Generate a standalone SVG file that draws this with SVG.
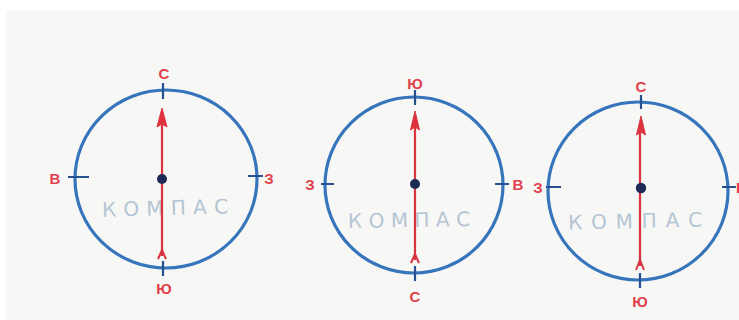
<svg xmlns="http://www.w3.org/2000/svg" width="739" height="320" viewBox="0 0 739 320">
<style>
.ring{fill:none;stroke:#3675bb;stroke-width:3.2}
.tick{stroke:#26508f;stroke-width:2.2;fill:none}
.needle{stroke:#d9343f;stroke-width:2.2;fill:none}
.head{fill:#e0323e;stroke:#d9343f;stroke-width:1}
.tail{stroke:#d9343f;stroke-width:2;fill:none;stroke-linejoin:miter}
.dot{fill:#1c2a55}
.lbl{font-family:"Liberation Sans",Arial,sans-serif;font-weight:bold;font-size:15px;fill:#e0404c;text-anchor:middle}
.name{font-family:"DejaVu Sans",sans-serif;font-size:20px;fill:#b4c5d3}
</style>
<rect x="0" y="0" width="739" height="320" fill="#ffffff"/>
<rect x="6" y="10" width="733" height="310" fill="#f7f7f6"/>

<g id="compass1">
  <ellipse class="ring" cx="166" cy="179" rx="91" ry="89"/>
  <path class="tick" d="M163,83 V99 M163,261 V276 M68,177 H89 M248,176 H263"/>
  <text class="name" x="102" y="215" textLength="126" lengthAdjust="spacing" transform="rotate(-1.5 165 210)">КОМПАС</text>
  <text class="lbl" x="164" y="79">С</text>
  <text class="lbl" x="164" y="294">Ю</text>
  <text class="lbl" x="55" y="184">В</text>
  <text class="lbl" x="269" y="184">З</text>
</g>

<g id="compass2">
  <ellipse class="ring" cx="414" cy="185" rx="89" ry="88"/>
  <path class="tick" d="M415,90 V105 M415,266 V281 M321,184 H334 M495,184 H509"/>
  <text class="name" x="348" y="227" textLength="122" lengthAdjust="spacing" transform="rotate(-1 409 221)">КОМПАС</text>
  <text class="lbl" x="415" y="89">Ю</text>
  <text class="lbl" x="415" y="302">С</text>
  <text class="lbl" x="310" y="190">З</text>
  <text class="lbl" x="518" y="190">В</text>
</g>

<g id="compass3">
  <ellipse class="ring" cx="638" cy="191" rx="90" ry="89"/>
  <path class="tick" d="M641,95 V109 M640,273 V288 M546,187 H561 M722,187 H736"/>
  <text class="name" x="568" y="228" textLength="134" lengthAdjust="spacing" transform="rotate(-1.2 635 222)">КОМПАС</text>
  <text class="lbl" x="641" y="92">С</text>
  <text class="lbl" x="640" y="307">Ю</text>
  <text class="lbl" x="538" y="193">З</text>
  <text class="lbl" x="736" y="193" style="text-anchor:start">В</text>
</g>

<g id="connectors">
  <path class="needle" d="M162,256 V122"/>
  <path class="head" d="M162,108 L167,127 L162,124 L157,127 Z"/>
  <path class="tail" d="M158,259 L162,250 L166,259"/>
  <circle class="dot" cx="162" cy="179" r="5"/>

  <path class="needle" d="M415,260 V126"/>
  <path class="head" d="M415,111 L419.5,130 L415,127 L410.5,130 Z"/>
  <path class="tail" d="M411,263 L415,254 L419,263"/>
  <circle class="dot" cx="415" cy="184" r="5"/>

  <path class="needle" d="M640,266 V131"/>
  <path class="head" d="M641,116 L645.5,135 L641,132 L636.5,135 Z"/>
  <path class="tail" d="M636,270 L640,260 L644,270"/>
  <circle class="dot" cx="641" cy="188" r="5.2"/>
</g>
</svg>
